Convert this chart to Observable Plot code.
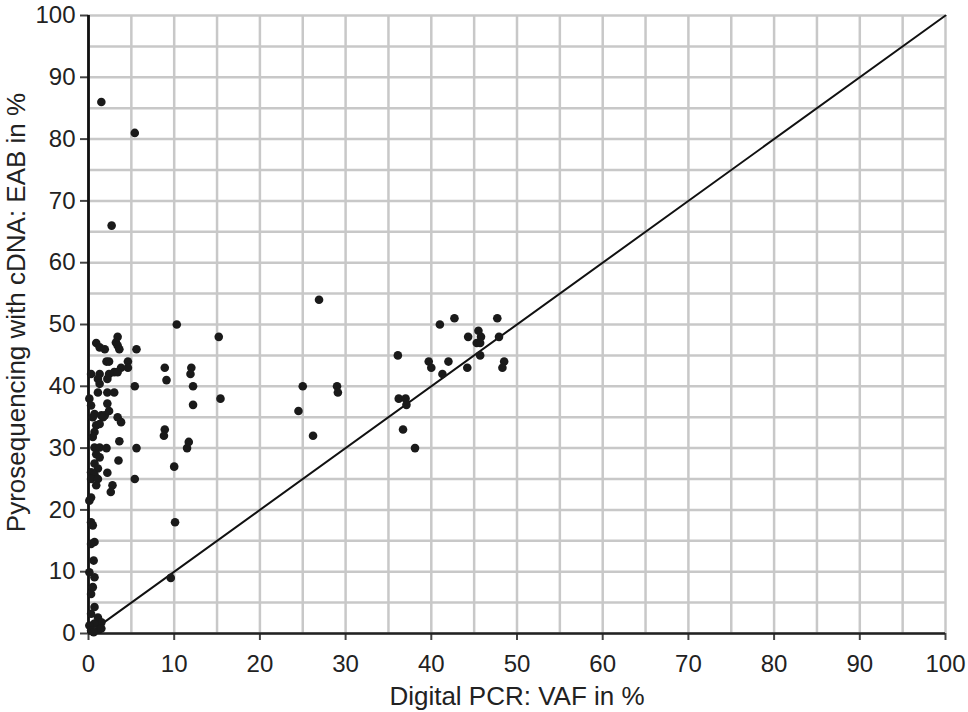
<!DOCTYPE html>
<html>
<head>
<meta charset="utf-8">
<script src="https://cdn.jsdelivr.net/npm/d3@7"></script>
<script src="https://cdn.jsdelivr.net/npm/@observablehq/plot@0.6"></script>
<style>
  html, body { margin: 0; padding: 0; background: #fff; }
  #chart { width: 968px; height: 712px; }
  svg { font-family: "Liberation Sans", Arial, Helvetica, sans-serif; }
</style>
</head>
<body>
<div id="chart"></div>
<script>
// Digital PCR VAF (%)
const dpcr = [
  1.5, 5.4, 2.7,
  10.3, 15.2, 8.9, 12.0, 11.9, 9.1, 12.2, 15.4, 12.2, 8.9, 8.8, 11.7, 11.5, 10.0, 10.1, 9.6,
  26.9, 25.0, 29.0, 29.1, 24.5, 26.2,
  36.1, 36.2, 37.0, 37.1, 36.7, 38.1,
  41.0, 42.7, 47.7, 44.3, 45.5, 45.8, 45.3, 45.7, 47.9, 45.7, 39.7, 40.0, 42.0, 41.3, 44.2, 48.5, 48.3,
  3.4, 0.9, 1.3, 1.9, 3.2, 3.4, 3.6, 5.6,
  2.1, 2.4, 4.6, 3.8, 4.6,
  0.3, 1.3, 2.4, 3.0, 3.4,
  1.1, 2.2, 1.3, 5.4,
  1.1, 2.2, 3.0, 0.1, 0.3, 2.2, 2.4,
  0.7, 1.5, 1.9,
  0.5, 1.7, 3.4, 3.8, 0.9, 1.3, 0.7, 0.5, 3.6,
  0.7, 1.3, 2.1, 5.6, 0.9, 1.3, 3.5, 0.7,
  1.1, 2.2, 0.3, 0.7, 5.4, 0.3, 1.1, 0.9, 2.8, 2.6, 0.3,
  0.1, 0.3, 0.5, 0.7, 0.3, 0.6, 0.1, 0.7, 0.5, 0.3, 0.7, 0.3, 1.1, 1.5, 0.7, 0.1, 0.3, 1.2, 0.6, 1.5
];
// Pyrosequencing with cDNA: EAB (%)
const pyro = [
  86, 81, 66,
  50, 48, 43, 43, 42, 41, 40, 38, 37, 33, 32, 31, 30, 27, 18, 9,
  54, 40, 40, 39, 36, 32,
  45, 38, 38, 37, 33, 30,
  50, 51, 51, 48, 49, 48, 47, 47, 48, 45, 44, 43, 44, 42, 43, 44, 43,
  48, 47, 46.3, 46, 47.1, 46.6, 46, 46,
  44, 44, 44, 43, 43,
  42, 42, 42, 42.3, 42.3,
  41.2, 41.2, 40.4, 40,
  39, 39, 39, 38, 36.9, 37.2, 36,
  35.5, 35.3, 35.3,
  35, 35, 35, 34.2, 33.7, 33.9, 32.6, 31.8, 31.1,
  30.1, 30.1, 30, 30, 29, 28.5, 28, 27.5,
  26.7, 26, 26.1, 25.7, 25, 25, 25, 24, 24, 22.9, 22,
  21.5, 18, 17.5, 14.8, 14.5, 11.8, 9.9, 9.1, 7.5, 6.4, 4.3, 3.2, 2.6, 1.8, 1.6, 1.3, 0.5, 0.6, 0.2, 0.8
];
// identity reference line
const lineX = [1, 100];
const lineY = [1, 100];
const gridTicks = d3.range(0, 101, 5);
const axisTicks = d3.range(0, 101, 10);
const xLabel = "Digital PCR: VAF in %";
const yLabel = "Pyrosequencing with cDNA: EAB in %";

const points = dpcr.map((x, i) => ({x, y: pyro[i]}));
const ref = lineX.map((x, i) => ({x, y: lineY[i]}));

const chart = Plot.plot({
  width: 968,
  height: 712,
  marginLeft: 88,
  marginRight: 23,
  marginTop: 15,
  marginBottom: 79,
  style: {fontFamily: '"Liberation Sans", Arial, Helvetica, sans-serif', color: "#222", background: "#fff"},
  x: {domain: [0, 100]},
  y: {domain: [0, 100]},
  marks: [
    Plot.gridX(gridTicks, {stroke: "#c8c8c8", strokeOpacity: 1, strokeWidth: 2.5}),
    Plot.gridY(gridTicks, {stroke: "#c8c8c8", strokeOpacity: 1, strokeWidth: 2.5}),
    Plot.axisX(axisTicks, {tickSize: 7, tickPadding: 14, fontSize: 24, label: null, stroke: "#444", strokeWidth: 2, fill: "#222"}),
    Plot.axisY(axisTicks, {tickSize: 8, tickPadding: 5, fontSize: 24, label: null, stroke: "#444", strokeWidth: 2, fill: "#222"}),
    Plot.ruleY([0], {stroke: "#222", strokeWidth: 2.5}),
    Plot.ruleX([0], {stroke: "#111", strokeWidth: 2.8}),
    Plot.line(ref, {x: "x", y: "y", stroke: "#111", strokeWidth: 2}),
    Plot.dot(points, {x: "x", y: "y", r: 4.3, fill: "#1a1a1a", stroke: "none"}),
    Plot.text([xLabel], {frameAnchor: "bottom", dy: 71, fontSize: 26, textAnchor: "middle", lineAnchor: "bottom", fill: "#222"}),
    Plot.text([yLabel], {frameAnchor: "left", rotate: -90, dx: -64, dy: -12, fontSize: 26, textAnchor: "middle", lineAnchor: "bottom", fill: "#222"})
  ]
});
document.getElementById("chart").appendChild(chart);
</script>
</body>
</html>
